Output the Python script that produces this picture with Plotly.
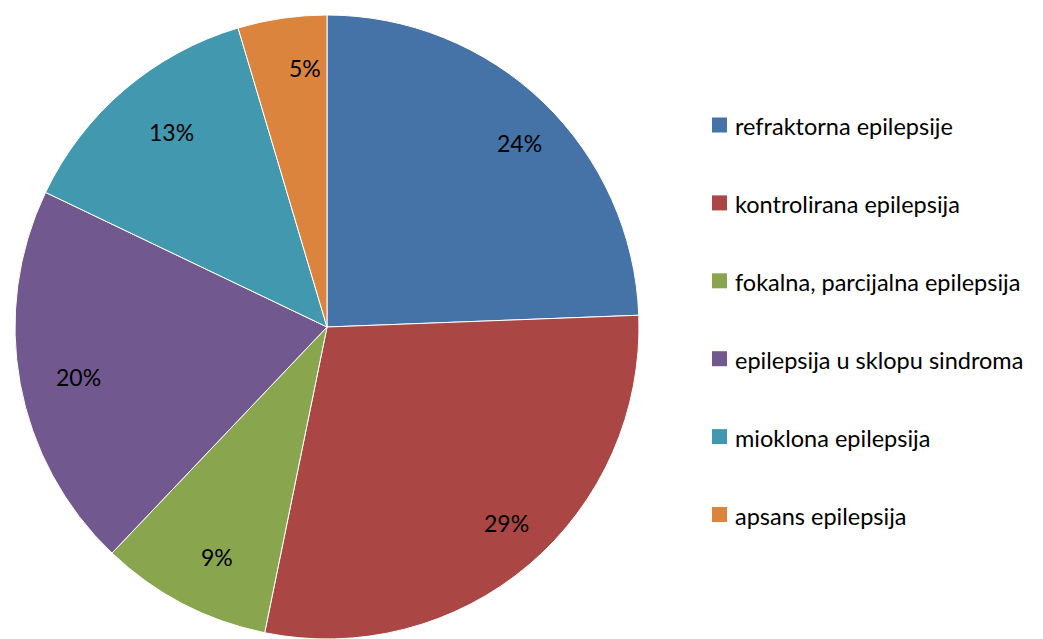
import math
import plotly.graph_objects as go

categories = ["refraktorna epilepsije", "kontrolirana epilepsija", "fokalna, parcijalna epilepsija",
              "epilepsija u sklopu sindroma", "mioklona epilepsija", "apsans epilepsija"]
values = [24.4, 28.8, 8.9, 20.0, 13.3, 4.6]
colors = ["#4572A7", "#AA4643", "#89A54E", "#71588F", "#4198AF", "#DB843D"]

OFF = 8  # page body margin
W, H = 1043 - OFF, 639 - OFF
FONT = "Lato, Noto Sans, sans-serif"

# pie geometry (figure pixels)
cx, cy, r = 327 - OFF, 319, 312
dom_x = [(cx - r) / W, (cx + r) / W]
dom_y = [max(0, 1 - (cy + r) / H), 1 - (cy - r) / H]

fig = go.Figure(go.Pie(
    labels=categories, values=values, sort=False, direction="clockwise", rotation=0,
    marker=dict(colors=colors, line=dict(color="white", width=1)),
    textinfo="none", hoverinfo="label+percent", showlegend=False,
    domain=dict(x=dom_x, y=dom_y),
))

total = sum(values)
ann = []
cum = 0
for v in values:
    mid = (cum + v / 2) / total * 2 * math.pi
    cum += v
    px = cx + 0.89 * r * math.sin(mid)
    py = cy - 0.89 * r * math.cos(mid)
    ann.append(dict(x=px / W, y=1 - py / H, xref="paper", yref="paper",
                    text=f"{round(v / total * 100)}%", showarrow=False,
                    font=dict(family=FONT, size=23, color="black")))

for i, (c, col) in enumerate(zip(categories, colors)):
    yc = 125 - OFF + i * 77.9
    fig.add_shape(type="rect", xref="paper", yref="paper",
                  x0=(712 - OFF) / W, x1=(727 - OFF) / W,
                  y0=1 - (yc + 7.5) / H, y1=1 - (yc - 7.5) / H,
                  fillcolor=col, line=dict(width=0))
    ann.append(dict(x=(733 - OFF) / W, y=1 - (yc + 1) / H, xref="paper", yref="paper", text=c,
                    showarrow=False, xanchor="left", yanchor="middle",
                    font=dict(family=FONT, size=23.5, color="black")))

fig.update_layout(width=W, height=H, margin=dict(l=0, r=0, t=0, b=0),
                  paper_bgcolor="white", plot_bgcolor="white",
                  annotations=ann)
fig.write_html("out.html")
